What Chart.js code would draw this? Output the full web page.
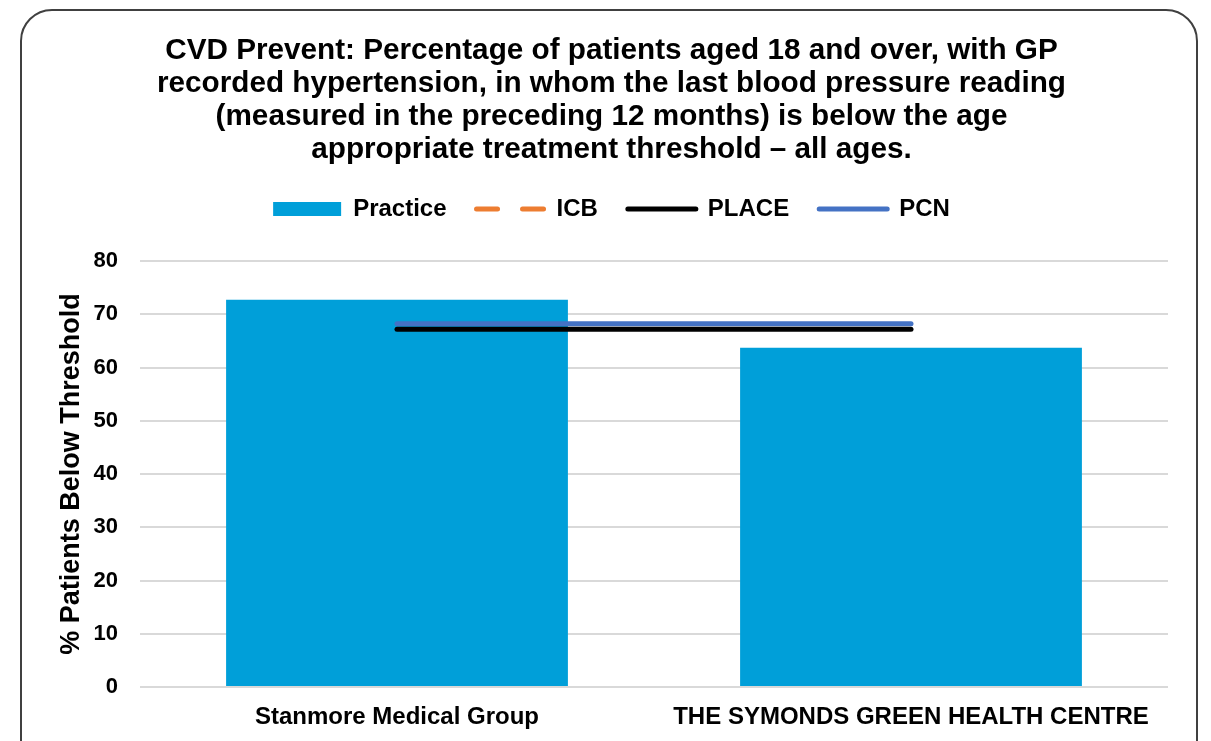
<!DOCTYPE html>
<html>
<head>
<meta charset="utf-8">
<script src="https://cdn.jsdelivr.net/npm/chart.js@4.4.1/dist/chart.umd.min.js"></script>
<style>
  html, body { margin: 0; padding: 0; background: #fff; }
  #wrap { position: relative; width: 1211px; height: 741px; overflow: hidden; }
  #frame {
    position: absolute; left: 20px; top: 9px; width: 1178px; height: 780px;
    border: 2px solid #404040; border-radius: 32px; box-sizing: border-box;
  }
  canvas { position: absolute; left: 0; top: 0; }
</style>
</head>
<body>
<div id="wrap">
  <div id="frame"></div>
  <canvas id="chart" width="1211" height="741"></canvas>
</div>
<script>
// Chart data
const categories = ["Stanmore Medical Group", "THE SYMONDS GREEN HEALTH CENTRE"];
const practiceValues = [72.7, 63.7];
const icbValues = [null, null];
const placeValues = [67.2, 67.2];
const pcnValues = [68.2, 68.2];
const yTicks = [0, 10, 20, 30, 40, 50, 60, 70, 80];

const titleLines = [
  "CVD Prevent: Percentage of patients aged 18 and over, with GP",
  "recorded hypertension, in whom the last blood pressure reading",
  "(measured in the preceding 12 months) is below the age",
  "appropriate treatment threshold \u2013 all ages."
];

const fontName = "'Liberation Sans', Arial, sans-serif";

// extra room under the legend
const legendGap = {
  id: "legendGap",
  beforeInit(chart) {
    const fit = chart.legend.fit;
    chart.legend.fit = function () {
      fit.bind(chart.legend)();
      this.height += 30;
    };
  }
};

new Chart(document.getElementById("chart"), {
  data: {
    labels: categories,
    datasets: [
      {
        type: "bar",
        label: "Practice",
        data: practiceValues,
        backgroundColor: "#009FD9",
        borderWidth: 0,
        categoryPercentage: 1,
        barPercentage: 0.665,
        pointStyle: "rect",
        order: 4
      },
      {
        type: "line",
        label: "ICB",
        data: icbValues,
        borderColor: "#ED7D31",
        backgroundColor: "#ED7D31",
        borderWidth: 5,
        borderDash: [21, 25],
        borderCapStyle: "round",
        pointRadius: 0,
        pointStyle: "line",
        order: 3
      },
      {
        type: "line",
        label: "PLACE",
        data: placeValues,
        borderColor: "#000000",
        backgroundColor: "#000000",
        borderWidth: 5,
        borderCapStyle: "round",
        pointRadius: 0,
        pointStyle: "line",
        order: 1
      },
      {
        type: "line",
        label: "PCN",
        data: pcnValues,
        borderColor: "#4472C4",
        backgroundColor: "#4472C4",
        borderWidth: 5,
        borderCapStyle: "round",
        pointRadius: 0,
        pointStyle: "line",
        order: 2
      }
    ]
  },
  plugins: [legendGap],
  options: {
    responsive: false,
    animation: false,
    layout: { padding: { left: 55, right: 43, top: 22, bottom: 9 } },
    plugins: {
      title: {
        display: true,
        text: titleLines,
        color: "#000",
        font: { family: fontName, size: 29.7, weight: "bold", lineHeight: "33px" },
        padding: { top: 12, bottom: 1 }
      },
      legend: {
        display: true,
        labels: {
          usePointStyle: true,
          pointStyleWidth: 68,
          boxHeight: 14,
          color: "#000",
          padding: 30,
          font: { family: fontName, size: 24, weight: "bold" },
          sort: (a, b) => a.datasetIndex - b.datasetIndex,
          generateLabels: chart => {
            const items = Chart.defaults.plugins.legend.labels.generateLabels(chart);
            items.forEach(item => {
              const ds = chart.data.datasets[item.datasetIndex];
              if (ds.type === "line") {
                item.lineDash = ds.borderDash || [];
                item.lineCap = "round";
                item.lineWidth = 5;
              }
            });
            return items;
          }
        }
      },
      tooltip: { enabled: false }
    },
    scales: {
      x: {
        offset: true,
        afterFit: axis => { axis.height = 45; },
        grid: { display: false, drawTicks: false },
        border: { display: false },
        ticks: {
          color: "#000",
          padding: 16,
          font: { family: fontName, size: 24, weight: "bold" }
        }
      },
      y: {
        min: 0,
        max: 80,
        afterBuildTicks: axis => { axis.ticks = yTicks.map(v => ({ value: v })); },
        afterFit: axis => { axis.width = 85; },
        grid: { color: "#D9D9D9", lineWidth: 2, drawTicks: false },
        border: { display: false },
        ticks: {
          color: "#000",
          padding: 22,
          font: { family: fontName, size: 22, weight: "bold" }
        },
        title: {
          display: true,
          text: "% Patients Below Threshold",
          color: "#000",
          padding: 0,
          font: { family: fontName, size: 27, weight: "bold" }
        }
      }
    }
  }
});
</script>
</body>
</html>
